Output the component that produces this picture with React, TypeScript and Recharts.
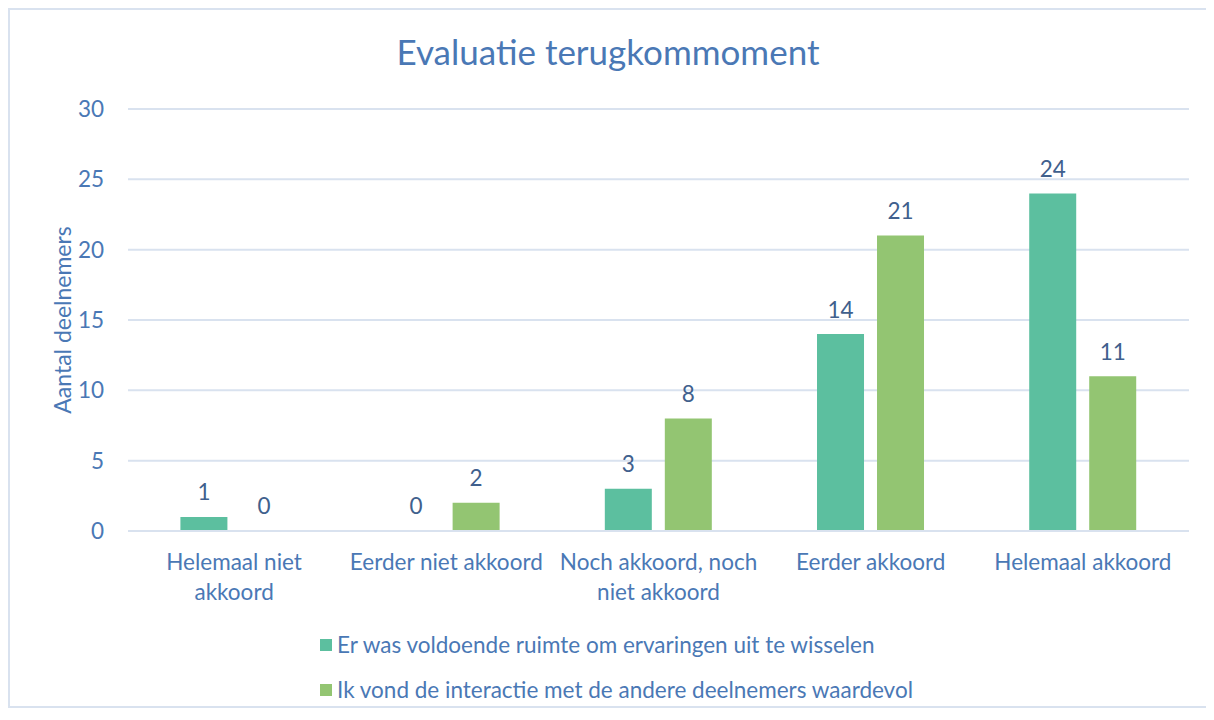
import { BarChart, Bar, XAxis, YAxis, CartesianGrid, Legend, LabelList } from "recharts";

const categories = [
  "Helemaal niet\nakkoord",
  "Eerder niet akkoord",
  "Noch akkoord, noch\nniet akkoord",
  "Eerder akkoord",
  "Helemaal akkoord",
];
const ruimte = [1, 0, 3, 14, 24];
const interactie = [0, 2, 8, 21, 11];
const yTicks = [0, 5, 10, 15, 20, 25, 30];

const seriesNames = [
  "Er was voldoende ruimte om ervaringen uit te wisselen",
  "Ik vond de interactie met de andere deelnemers waardevol",
];

const TEAL = "#5cbf9f";
const GREEN = "#93c572";
const AXIS_BLUE = "#4a78b5";
const LABEL_BLUE = "#40608d";
const GRID = "#d9e2ef";
const FONT = "Lato, 'Open Sans', sans-serif";
const FS = 22.5;

const data = categories.map((c, i) => ({ name: c, ruimte: ruimte[i], interactie: interactie[i] }));

// zero bars get a hair of height so their "0" label still shows
const zeroMin = (v: number) => (v === 0 ? 0.01 : 0);

function CategoryTick(props: any) {
  const { x, y, payload } = props;
  const lines = String(payload.value).split("\n");
  return (
    <g transform={`translate(${x},${y})`}>
      {lines.map((l, i) => (
        <text key={i} x={0} y={22 + i * 30} textAnchor="middle" dominantBaseline="central" fill={AXIS_BLUE} fontSize={FS} fontFamily={FONT}>
          {l}
        </text>
      ))}
    </g>
  );
}

function ValueLabel(props: any) {
  const { x, y, width, value } = props;
  if (value == null || x == null) return null;
  return (
    <text x={x + width / 2} y={y - 25} textAnchor="middle" dominantBaseline="central" fill={LABEL_BLUE} fontSize={FS} fontFamily={FONT}>
      {value}
    </text>
  );
}

function LegendBox() {
  const colors = [TEAL, GREEN];
  return (
    <div style={{ fontFamily: FONT, fontSize: FS, color: AXIS_BLUE, paddingLeft: 252, textAlign: "left" }}>
      {seriesNames.map((n, i) => (
        <div key={n} style={{ display: "flex", alignItems: "center", height: 45 }}>
          <span style={{ width: 12, height: 12, background: colors[i], display: "inline-block", marginRight: 5 }} />
          <span>{n}</span>
        </div>
      ))}
    </div>
  );
}

export default function App() {
  return (
    <div style={{ position: "relative", width: 1196, height: 696, border: `2px solid ${GRID}`, fontFamily: FONT }}>
      <div style={{ position: "absolute", top: 20, left: 0, width: "100%", textAlign: "center", fontSize: 35, color: AXIS_BLUE }}>
        Evaluatie terugkommoment
      </div>
      <div
        style={{
          position: "absolute",
          left: 52,
          top: 310,
          transform: "translate(-50%, -50%) rotate(-90deg)",
          whiteSpace: "nowrap",
          fontSize: 23,
          color: AXIS_BLUE,
        }}
      >
        Aantal deelnemers
      </div>
      <BarChart
        width={1196}
        height={696}
        data={data}
        margin={{ top: 99, right: 17, left: 58, bottom: 5 }}
        barCategoryGap="24.7%"
        barGap={13}
      >
        <CartesianGrid vertical={false} stroke={GRID} strokeWidth={2} />
        <XAxis
          dataKey="name"
          tick={<CategoryTick />}
          tickLine={false}
          axisLine={{ stroke: GRID, strokeWidth: 2 }}
          height={80}
          interval={0}
        />
        <YAxis
          domain={[0, 30]}
          ticks={yTicks}
          axisLine={false}
          tickLine={false}
          width={60}
          tickMargin={18}
          tick={{ fill: AXIS_BLUE, fontSize: FS, fontFamily: FONT }}
        />
        <Legend
          layout="horizontal"
          verticalAlign="bottom"
          align="center"
          content={<LegendBox />}
          wrapperStyle={{ bottom: -6 }}
        />
        <Bar dataKey="ruimte" name={seriesNames[0]} fill={TEAL} minPointSize={zeroMin} isAnimationActive={false}>
          <LabelList dataKey="ruimte" content={<ValueLabel />} />
        </Bar>
        <Bar dataKey="interactie" name={seriesNames[1]} fill={GREEN} minPointSize={zeroMin} isAnimationActive={false}>
          <LabelList dataKey="interactie" content={<ValueLabel />} />
        </Bar>
      </BarChart>
    </div>
  );
}
